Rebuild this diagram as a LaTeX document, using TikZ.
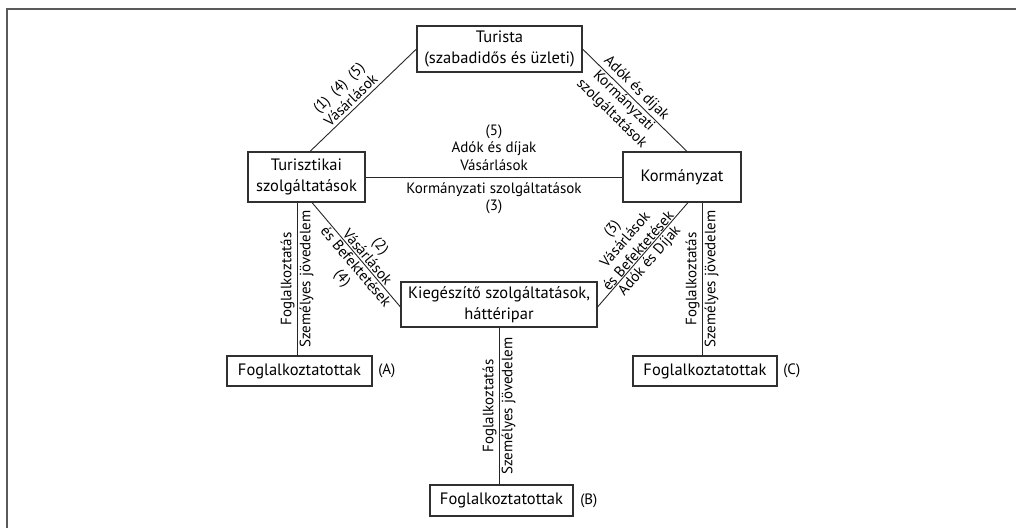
\documentclass[tikz,border=0pt]{standalone}
\usepackage{fontspec}
\setmainfont{PT Sans}
\definecolor{framecol}{HTML}{5A5A5A}
\definecolor{linecol}{HTML}{262626}
\definecolor{boxline}{HTML}{303030}
\newcommand{\boxfont}{\fontsize{16.5}{20.5}\selectfont}
\newcommand{\labfont}{\fontsize{15}{17.5}\selectfont}
\begin{document}
\begin{tikzpicture}[x=1pt,y=-1pt,
  box/.style={draw=boxline, line width=1.1pt, inner sep=0pt, align=center, font=\boxfont},
  conn/.style={draw=linecol, line width=0.9pt},
  lbl/.style={font=\labfont, align=center, inner sep=1.5pt},
  vlbl/.style={font=\labfont, inner sep=2pt, rotate=90},
]
\useasboundingbox (0,0) rectangle (1016,527);
% outer frame (only its top and left sides fall inside the page)
\draw[framecol, line width=2pt] (6.5,540) |- (1030,9.5);

% boxes
\node[box, minimum width=165pt, minimum height=46pt] (tur) at (499.5,49) {Turista\\(szabadidős és üzleti)};
\node[box, minimum width=117pt, minimum height=50pt] (tsz) at (306.5,177) {Turisztikai\\szolgáltatások};
\node[box, minimum width=118pt, minimum height=50pt] (kor) at (682,177) {Kormányzat};
\node[box, minimum width=196pt, minimum height=45pt] (kie) at (499,304.5) {Kiegészítő szolgáltatások,\\háttéripar};
\node[box, minimum width=145pt, minimum height=30pt] (fa) at (299.5,371) {Foglalkoztatottak};
\node[box, minimum width=143pt, minimum height=31pt] (fb) at (501.5,500.5) {Foglalkoztatottak};
\node[box, minimum width=144pt, minimum height=30pt] (fc) at (705,371) {Foglalkoztatottak};
\node[lbl, anchor=west] (la) at ([xshift=4pt]fa.east) {(A)};
\node[lbl, anchor=west] (lb) at ([xshift=5pt]fb.east) {(B)};
\node[lbl, anchor=west] (lc) at ([xshift=4pt]fc.east) {(C)};

% attachment points for the vertical links
\coordinate (atop) at ([xshift=-2.5pt]fa.north);
\coordinate (ctop) at ([xshift=-3pt]fc.north);

% tourist links
\draw[conn] ([xshift=3.5pt]tsz.north) -- (tur.west)
  node[lbl, pos=0.44, sloped, above, inner sep=3pt] {(1)\enspace(4)\enspace(5)\\Vásárlások};
\draw[conn] (tur.east) -- ([xshift=5pt]kor.north)
  node[lbl, pos=0.45, sloped, above, inner sep=2pt] {Adók és díjak}
  node[lbl, pos=0.45, sloped, below, inner sep=1pt] {Kormányzati\\szolgáltatások};

% services and government
\draw[conn] (tsz.east) -- (kor.west)
  node[lbl, midway, above, inner sep=6pt] {(5)\\Adók és díjak\\Vásárlások}
  node[lbl, midway, below, inner sep=5pt] {Kormányzati szolgáltatások\\(3)};

% supplementary services
\draw[conn] ([xshift=5.5pt]tsz.south) -- ([yshift=-2.5pt]kie.west)
  node[lbl, pos=0.565, sloped, above] {(2)\\Vásárlások}
  node[lbl, pos=0.565, sloped, below] {és Befektetések\\(4)};
\draw[conn] ([yshift=-2.5pt]kie.east) -- ([xshift=6pt]kor.south)
  node[lbl, pos=0.5, sloped, above, inner sep=0.5pt] {(3)\\Vásárlások\\és Befektetések}
  node[lbl, pos=0.5, sloped, below, inner sep=2pt] {Adók és Díjak};

% employment links
\draw[conn] (atop |- tsz.south) -- (atop)
  node[vlbl, midway, anchor=south] {Foglalkoztatás}
  node[vlbl, midway, anchor=north] {Személyes jövedelem};
\draw[conn] (kie.south) -- (kie.south |- fb.north)
  node[vlbl, midway, anchor=south] {Foglalkoztatás}
  node[vlbl, midway, anchor=north] {Személyes jövedelem};
\draw[conn] (ctop |- kor.south) -- (ctop)
  node[vlbl, midway, anchor=south] {Foglalkoztatás}
  node[vlbl, midway, anchor=north] {Személyes jövedelem};
\end{tikzpicture}
\end{document}
